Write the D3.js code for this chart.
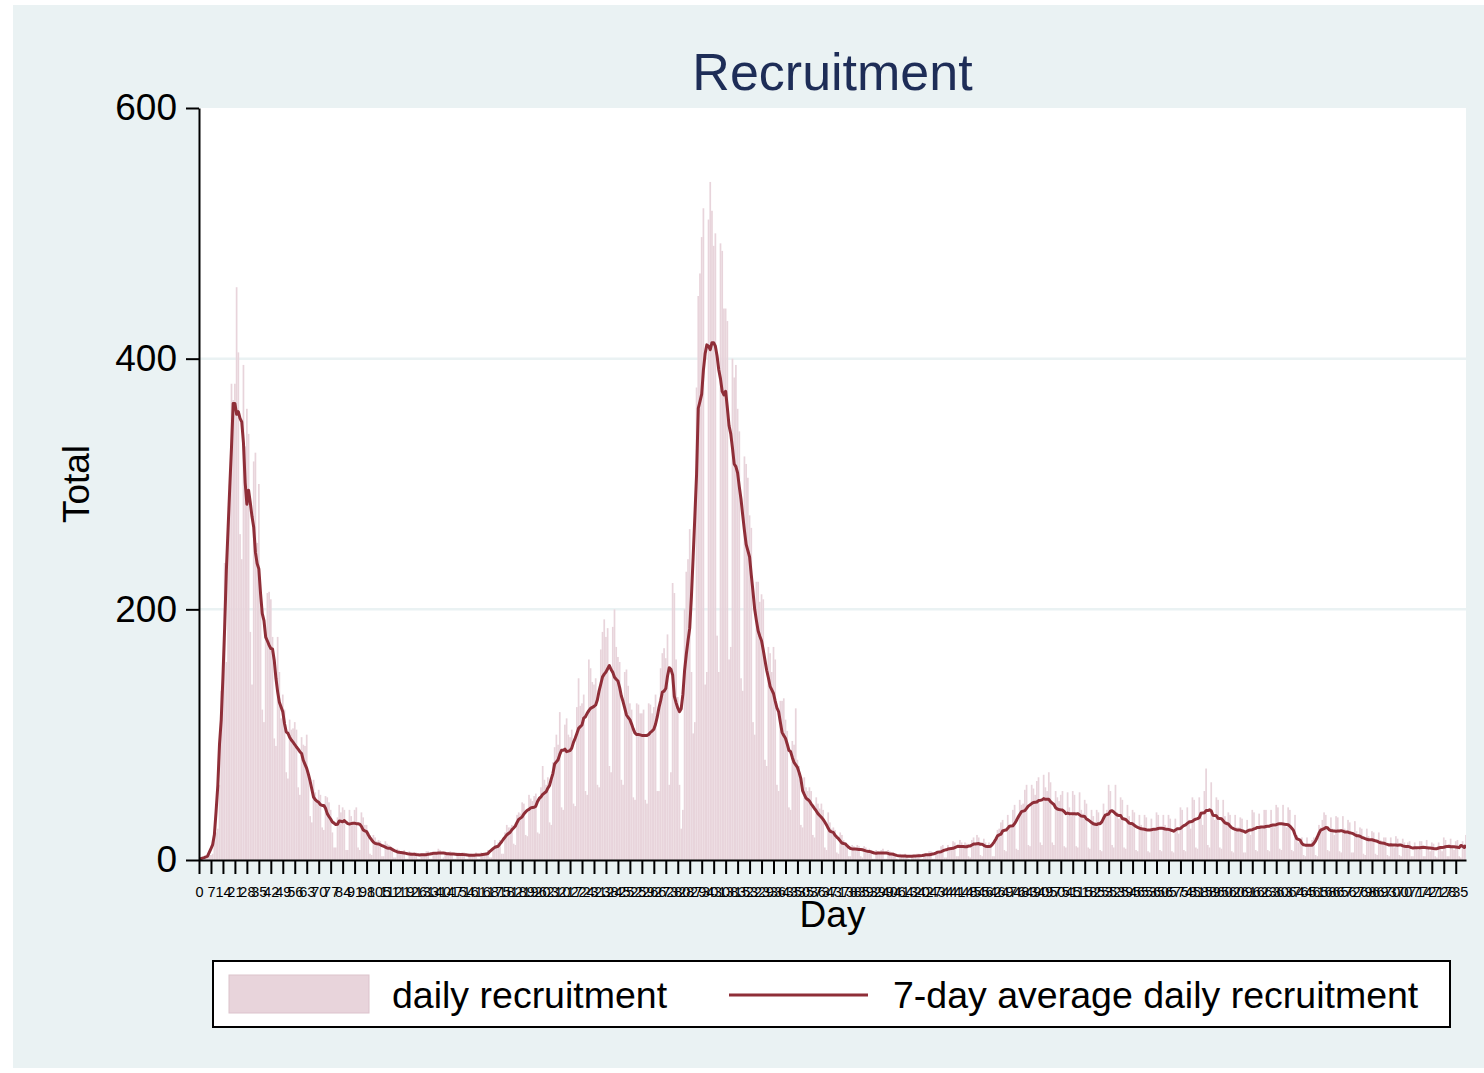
<!DOCTYPE html>
<html><head><meta charset="utf-8">
<script src="https://cdn.jsdelivr.net/npm/d3@7"></script>
<style>
body{margin:0;background:#fff}
svg{display:block}
text{font-family:"Liberation Sans",Arial,Helvetica,sans-serif}
</style></head>
<body><svg id="chart" width="1484" height="1073"></svg>
<script>
// ---------------- DATA ----------------
const chartTitle = "Recruitment";
const xAxisTitle = "Day";
const yAxisTitle = "Total";
const seriesNames = ["daily recruitment", "7-day average daily recruitment"];

// daily recruitment, day 0 .. day 741 (one row per week)
const dailyRecruitment = [
  0,0,1,1,3,4,4,
  4,5,22,22,25,60,135,
  146,237,158,261,300,380,367,
  380,457,405,260,240,395,330,
  360,340,182,140,318,325,253,
  300,200,120,110,180,213,214,
  208,178,97,91,178,150,113,
  132,120,70,65,112,104,105,
  110,104,58,52,98,92,91,
  100,66,35,30,64,54,46,
  56,52,26,24,51,50,46,
  40,22,10,10,34,44,38,
  42,40,8,8,40,35,30,
  40,42,10,8,38,34,28,
  28,22,5,4,20,18,15,
  16,15,3,3,15,13,12,
  11,10,2,2,9,8,7,
  7,8,1,1,7,6,5,
  6,6,1,1,5,5,4,
  7,7,1,1,7,6,6,
  9,8,1,2,7,6,6,
  7,6,1,1,6,6,5,
  6,6,1,1,5,5,4,
  5,6,1,1,6,5,4,
  6,8,2,2,9,16,12,
  14,16,5,5,22,28,26,
  26,28,13,12,36,38,37,
  46,45,20,19,52,49,47,
  51,53,22,21,58,75,64,
  60,66,30,28,78,90,100,
  92,118,42,40,108,113,100,
  98,104,45,43,122,145,123,
  125,132,55,52,160,153,142,
  140,145,60,58,168,182,192,
  178,185,75,70,186,200,170,
  162,158,64,60,150,152,139,
  125,120,50,48,125,124,117,
  117,120,48,45,125,124,117,
  122,132,55,55,153,165,169,
  161,180,60,70,221,213,160,
  130,60,25,40,200,230,240,
  264,150,101,110,377,450,468,
  497,520,140,150,511,541,518,
  490,500,179,150,492,486,440,
  440,430,160,170,400,385,395,
  360,342,145,135,322,316,305,
  275,265,110,100,222,222,206,
  212,208,80,75,170,165,150,
  170,160,60,55,127,127,129,
  112,103,42,40,95,92,121,
  80,75,28,26,66,58,55,
  58,55,20,18,50,45,41,
  45,40,10,8,38,30,25,
  26,24,6,5,22,20,16,
  14,12,3,3,12,11,9,
  12,11,3,2,11,10,8,
  9,8,1,1,8,7,5,
  8,9,1,1,8,7,5,
  6,5,1,0,5,4,3,
  5,4,1,0,4,4,3,
  5,5,1,1,5,4,4,
  7,7,1,1,7,6,6,
  11,12,2,2,12,10,8,
  15,14,3,3,16,14,12,
  14,13,3,2,16,18,12,
  20,18,4,3,17,14,12,
  14,13,3,3,18,24,25,
  30,32,8,7,36,28,26,
  40,44,9,8,48,44,45,
  56,60,12,11,60,57,52,
  63,66,14,12,68,58,55,
  70,62,14,12,55,50,47,
  52,55,11,10,54,42,35,
  55,52,11,10,54,40,37,
  48,45,10,9,40,35,30,
  40,38,8,7,45,35,40,
  60,55,12,10,60,38,33,
  50,48,10,9,44,35,30,
  40,38,8,7,36,28,25,
  36,34,7,6,33,26,25,
  38,36,8,7,36,28,25,
  36,33,7,6,33,25,21,
  42,40,8,7,42,32,25,
  50,48,10,9,50,36,28,
  55,73,12,10,62,36,32,
  50,48,10,9,48,35,31,
  38,36,7,6,36,26,26,
  34,33,6,6,32,24,20,
  40,38,8,7,37,27,25,
  40,40,8,7,40,28,26,
  44,42,9,8,44,30,26,
  42,40,8,7,36,20,14,
  16,18,4,3,18,12,12,
  16,18,4,3,28,26,32,
  38,36,8,7,34,25,20,
  35,34,7,6,35,25,22,
  32,30,6,6,31,23,19,
  26,25,5,4,25,19,15,
  23,22,5,4,22,16,13,
  18,18,4,3,18,13,10,
  19,17,4,3,17,14,10,
  14,15,3,3,14,10,8,
  15,15,3,3,16,11,7,
  14,13,3,2,14,10,7,
  18,16,3,3,17,12,8,
  15,16,3,2,15,10,20
];

const yTicks = [0, 200, 400, 600];
const yGridValues = [200, 400];
const xTicks = [0,7,14,21,28,35,42,49,56,63,70,77,84,91,98,105,112,119,126,133,140,147,154,161,168,175,182,189,196,203,
  210,217,224,231,238,245,252,259,266,273,280,287,294,301,308,315,322,329,336,343,350,357,364,371,378,385,392,399,406,413,
  420,427,434,441,448,455,462,469,476,483,490,497,504,511,518,525,532,539,546,553,560,567,574,581,588,595,602,609,616,623,
  630,637,644,651,658,665,672,679,686,693,700,707,714,721,728,735];

// ---------------- CHART ----------------
const W = 1484, H = 1073;
const P = {left: 199, right: 1466, top: 108, bottom: 860};
const barColor = "#e8d4db", lineColor = "#8f2e38", bgColor = "#eaf2f3";

const svg = d3.select("#chart");
svg.append("rect").attr("x", 13).attr("y", 5).attr("width", W - 13).attr("height", 1063).attr("fill", bgColor);
svg.append("rect").attr("x", P.left).attr("y", P.top).attr("width", P.right - P.left).attr("height", P.bottom - P.top).attr("fill", "#fff");

const days = dailyRecruitment.map((v, i) => ({day: i, v}));
const x = d3.scaleLinear().domain([0, days.length - 1]).range([P.left, P.right]);
const y = d3.scaleLinear().domain([0, 600]).range([P.bottom, P.top]);

// grid
svg.append("g").selectAll("line").data(yGridValues).join("line")
  .attr("x1", P.left).attr("x2", P.right).attr("y1", d => y(d)).attr("y2", d => y(d))
  .attr("stroke", bgColor).attr("stroke-width", 2.5);

// clip
svg.append("clipPath").attr("id", "plotclip").append("rect")
  .attr("x", P.left).attr("y", P.top).attr("width", P.right - P.left).attr("height", P.bottom - P.top);

const bw = x(1) - x(0);
svg.append("g").attr("clip-path", "url(#plotclip)").selectAll("rect").data(days).join("rect")
  .attr("x", d => x(d.day) - bw / 2).attr("width", bw)
  .attr("y", d => y(d.v)).attr("height", d => y(0) - y(d.v))
  .attr("fill", barColor);

// 7-day (centred) moving average of the daily series
const ma = days.map((d, i) => {
  const w = dailyRecruitment.slice(Math.max(0, i - 3), Math.min(dailyRecruitment.length, i + 4));
  return {day: d.day, v: d3.mean(w)};
});
svg.append("path").datum(ma).attr("clip-path", "url(#plotclip)")
  .attr("d", d3.line().x(d => x(d.day)).y(d => y(d.v)))
  .attr("fill", "none").attr("stroke", lineColor).attr("stroke-width", 3).attr("stroke-linejoin", "round");

// axes
const gy = svg.append("g").attr("transform", `translate(${P.left},0)`)
  .call(d3.axisLeft(y).tickValues(yTicks).tickSize(13).tickPadding(9).tickSizeOuter(0));
const gx = svg.append("g").attr("transform", `translate(0,${P.bottom})`)
  .call(d3.axisBottom(x).tickValues(xTicks).tickSize(14).tickPadding(13).tickSizeOuter(0));
[gx, gy].forEach(g => {
  g.select(".domain").attr("stroke", "#000").attr("stroke-width", 2);
  g.selectAll(".tick line").attr("stroke", "#000").attr("stroke-width", 2);
  g.selectAll("text").attr("fill", "#000").style("font-family", '"Liberation Sans",Arial,sans-serif');
});
gy.selectAll("text").attr("font-size", 37);
gx.selectAll("text").attr("font-size", 14.5);

// titles
svg.append("text").attr("x", (P.left + P.right) / 2).attr("y", 90).attr("text-anchor", "middle")
  .attr("font-size", 52).attr("fill", "#1e2d57").text(chartTitle);
svg.append("text").attr("x", (P.left + P.right) / 2).attr("y", 927).attr("text-anchor", "middle")
  .attr("font-size", 37).attr("fill", "#000").text(xAxisTitle);
svg.append("text").attr("transform", "translate(89,484) rotate(-90)").attr("text-anchor", "middle")
  .attr("font-size", 37).attr("fill", "#000").text(yAxisTitle);

// legend
const lg = svg.append("g");
lg.append("rect").attr("x", 213).attr("y", 961).attr("width", 1237).attr("height", 66)
  .attr("fill", "#fff").attr("stroke", "#000").attr("stroke-width", 2);
lg.append("rect").attr("x", 229).attr("y", 975).attr("width", 140).attr("height", 38)
  .attr("fill", barColor).attr("stroke", "#dcc3cc").attr("stroke-width", 1);
lg.append("text").attr("x", 392).attr("y", 1008).attr("font-size", 37.5).attr("fill", "#000").text(seriesNames[0]);
lg.append("line").attr("x1", 729).attr("x2", 868).attr("y1", 995).attr("y2", 995)
  .attr("stroke", lineColor).attr("stroke-width", 3);
lg.append("text").attr("x", 893).attr("y", 1008).attr("font-size", 37.5).attr("fill", "#000").text(seriesNames[1]);
</script>
</body></html>
